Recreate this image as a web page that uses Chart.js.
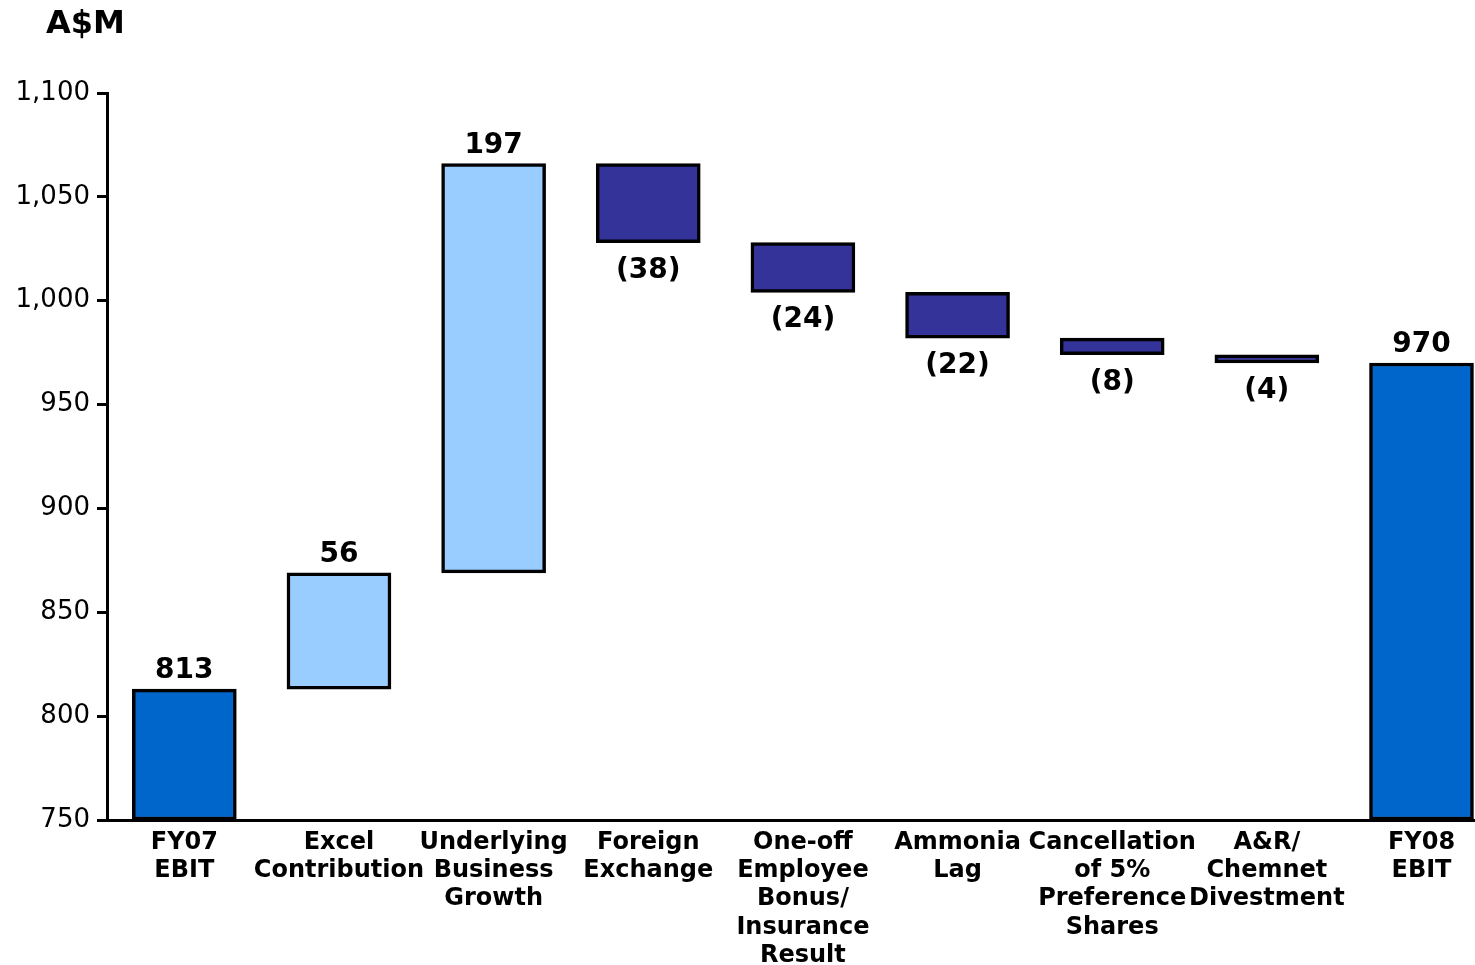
<!DOCTYPE html>
<html>
<head>
<meta charset="utf-8">
<script src="https://cdn.jsdelivr.net/npm/chart.js@4/dist/chart.umd.min.js"></script>
<style>
  html, body { margin: 0; padding: 0; background: #ffffff; overflow: hidden; }
  #wrap { width: 1475px; height: 965px; position: relative; }
</style>
</head>
<body>
<div id="wrap"><canvas id="ebit"></canvas></div>
<script>
// EBIT bridge, FY07 to FY08 (A$M)
const CATEGORIES = [
  ["FY07", "EBIT"],
  ["Excel", "Contribution"],
  ["Underlying", "Business", "Growth"],
  ["Foreign", "Exchange"],
  ["One-off", "Employee", "Bonus/", "Insurance", "Result"],
  ["Ammonia", "Lag"],
  ["Cancellation", "of 5%", "Preference", "Shares"],
  ["A&R/", "Chemnet", "Divestment"],
  ["FY08", "EBIT"]
];
const START_VALUE = 813;
const CHANGES = [56, 197, -38, -24, -22, -8, -4];
const END_VALUE = 970;
const Y_TICKS = [750, 800, 850, 900, 950, 1000, 1050, 1100];

const COLOR_TOTAL = "#0066CC";
const COLOR_UP = "#99CCFF";
const COLOR_DOWN = "#333399";
const FONT = "'DejaVu Sans', Verdana, sans-serif";

// Build floating bar ranges from the running total
const yMin = Y_TICKS[0];
const bars = [];
const labels = [];
const colors = [];
bars.push({ x: 0, y: [yMin, START_VALUE] });
labels.push(String(START_VALUE));
colors.push(COLOR_TOTAL);
let running = START_VALUE;
CHANGES.forEach((c, i) => {
  const next = running + c;
  bars.push({ x: i + 1, y: [running, next] });
  labels.push(c < 0 ? "(" + Math.abs(c) + ")" : String(c));
  colors.push(c < 0 ? COLOR_DOWN : COLOR_UP);
  running = next;
});
bars.push({ x: CHANGES.length + 1, y: [yMin, END_VALUE] });
labels.push(String(END_VALUE));
colors.push(COLOR_TOTAL);

// Value labels above rises/totals and below falls
const valueLabels = {
  id: "valueLabels",
  afterDatasetsDraw(chart) {
    const ctx = chart.ctx;
    const meta = chart.getDatasetMeta(0);
    ctx.save();
    ctx.font = "bold 28px " + FONT;
    ctx.fillStyle = "#000000";
    ctx.textAlign = "center";
    ctx.textBaseline = "alphabetic";
    meta.data.forEach((el, i) => {
      const top = Math.min(el.y, el.base);
      const bottom = Math.max(el.y, el.base);
      const isDown = i > 0 && i <= CHANGES.length && CHANGES[i - 1] < 0;
      if (isDown) {
        ctx.fillText(labels[i], el.x, bottom + 35);
      } else {
        ctx.fillText(labels[i], el.x, top - 11);
      }
    });
    ctx.restore();
  }
};

// Unit caption in the top-left corner
const unitCaption = {
  id: "unitCaption",
  afterDraw(chart) {
    const ctx = chart.ctx;
    ctx.save();
    ctx.font = "bold 32px " + FONT;
    ctx.fillStyle = "#000000";
    ctx.textAlign = "left";
    ctx.textBaseline = "alphabetic";
    ctx.fillText("A$M", 46, 33);
    ctx.restore();
  }
};

new Chart(document.getElementById("ebit"), {
  type: "bar",
  data: {
    datasets: [{
      data: bars,
      backgroundColor: colors,
      borderColor: "#000000",
      borderWidth: 3.5,
      borderSkipped: false,
      barThickness: 104
    }]
  },
  plugins: [valueLabels, unitCaption],
  options: {
    responsive: true,
    maintainAspectRatio: false,
    animation: false,
    layout: { padding: { top: 93, right: 0, bottom: 0, left: 0 } },
    plugins: {
      legend: { display: false },
      tooltip: { enabled: false },
      title: { display: false }
    },
    scales: {
      x: {
        type: "linear",
        min: -0.5,
        max: 8.346,
        offset: false,
        grid: { display: false, offset: false },
        border: { display: true, color: "#000000", width: 3 },
        afterBuildTicks(scale) {
          scale.ticks = CATEGORIES.map((_, i) => ({ value: i }));
        },
        afterFit(scale) { scale.height = 145; },
        ticks: {
          autoSkip: false,
          maxRotation: 0,
          minRotation: 0,
          padding: 1,
          color: "#000000",
          font: { family: FONT, size: 24, weight: "bold", lineHeight: 1.17 },
          callback: (v) => CATEGORIES[v] || ""
        }
      },
      y: {
        min: 750,
        max: 1100,
        afterBuildTicks(scale) {
          scale.ticks = Y_TICKS.map(v => ({ value: v }));
        },
        afterFit(scale) { scale.width = 107; },
        grid: {
          drawOnChartArea: false,
          drawTicks: true,
          tickLength: 10,
          tickWidth: 3,
          tickColor: "#000000"
        },
        border: { display: true, color: "#000000", width: 3 },
        ticks: {
          padding: 7,
          color: "#000000",
          font: { family: FONT, size: 26, weight: "normal" },
          callback: (v) => v.toLocaleString("en-US")
        }
      }
    }
  }
});
</script>
</body>
</html>
